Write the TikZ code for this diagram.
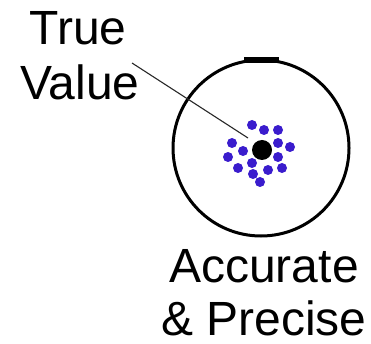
\documentclass[tikz,border=0pt]{standalone}
\usepackage{fontspec}
\setmainfont{Liberation Sans}
\usetikzlibrary{positioning}
\definecolor{shotBlue}{RGB}{58, 28, 205}
\definecolor{pointerGray}{RGB}{40, 40, 40}

\begin{document}
\begin{tikzpicture}[
  x=1pt,y=-1pt,
  caption/.style={
    anchor=base,
    inner sep=0pt,
    font=\fontsize{48}{54}\selectfont
  },
  shot/.style={circle,fill=shotBlue,inner sep=0pt,minimum size=10pt},
  target/.style={circle,draw,line width=3pt,fill=white,inner sep=0pt,minimum size=176pt},
  pointer/.style={pointerGray,line width=1.1pt}
]
  \useasboundingbox (0,0) rectangle (371,344);
  \node[target] (board) at (261,148) {};
  \fill (244,57) rectangle (279,63);
  \node[caption] (trueword) at (78,45) {True};
  \node[caption] (valueword) at (80,100) {Value};
  \node[caption] (accurate) at (264,282) {Accurate};
  \node[caption] (precise) at (264,335) {\& Precise};
  % scattered hits
  \foreach \hx/\hy [count=\i] in {252/125,264/130,278/130,232/143,243/151,278/143,290/147,
    228/157,278/157,252/163,238/168,268/170,282/168,253/174,260/182}
    \node[shot] (hit\i) at (\hx,\hy) {};
  \node[circle,fill=black,inner sep=0pt,minimum size=20pt] (truevalue) at (262,150) {};
  \coordinate (pointerstart) at (132,63);
  \coordinate (pointerend) at (248,138);
  \draw[pointer] (pointerstart) -- (pointerend);
\end{tikzpicture}
\end{document}
